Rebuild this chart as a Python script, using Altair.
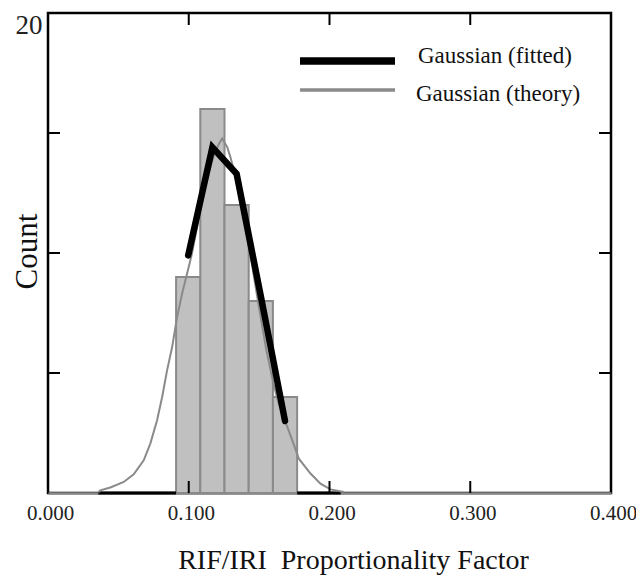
import altair as alt
import pandas as pd

# ---------------- data ----------------
bin_starts = [0.0910, 0.1082, 0.1254, 0.1426, 0.1598]
bin_ends = [0.1082, 0.1254, 0.1426, 0.1598, 0.1770]
counts = [9, 16, 12, 8, 4]

fit_x = [0.0996, 0.1168, 0.1340, 0.1512, 0.1684]
fit_y = [9.9, 14.4, 13.3, 8.2, 3.0]

theory_x = [0.0358, 0.0372, 0.0443, 0.0538, 0.0609, 0.0680, 0.0727, 0.0775, 0.0811,
            0.0846, 0.0882, 0.0917, 0.0953, 0.0988, 0.1020, 0.1060, 0.1100, 0.1140,
            0.1180, 0.1210, 0.1237, 0.1273, 0.1296, 0.1308, 0.1350, 0.1400, 0.1450,
            0.1500, 0.1550, 0.1600, 0.1640, 0.1687, 0.1735, 0.1782, 0.1865, 0.1936,
            0.2007, 0.2102]
theory_y = [0.03, 0.11, 0.23, 0.46, 0.78, 1.36, 2.06, 3.03, 4.0,
            5.11, 6.08, 7.33, 8.31, 9.14, 9.9, 11.1, 12.3, 13.3,
            14.1, 14.5, 14.77, 14.42, 14.0, 13.73, 12.8, 11.2, 9.5,
            7.7, 6.0, 4.6, 3.7, 2.96, 2.2, 1.43, 0.81, 0.39,
            0.15, 0.04]

zero_starts = [0.0358, 0.1770]
zero_ends = [0.0910, 0.2080]

x_ticks = [0.1, 0.2, 0.3]
y_ticks = [5, 10, 15]
x_labels = [0.0, 0.1, 0.2, 0.3, 0.4]

legend_names = ["Gaussian (fitted)", "Gaussian (theory)"]
x_title = "RIF/IRI\u00a0\u00a0Proportionality Factor"

# ---------------- layout ----------------
W, H = 563, 480
FONT = "Liberation Serif"

bars_df = pd.DataFrame({"x0": bin_starts, "x1": bin_ends, "count": counts})
fit_df = pd.DataFrame({"x": fit_x, "y": fit_y})
theory_df = pd.DataFrame({"x": theory_x, "y": theory_y})
zero_df = pd.DataFrame({"x0": zero_starts, "x1": zero_ends, "y": [0, 0]})
xt_df = pd.DataFrame({"x": x_ticks})
yt_df = pd.DataFrame({"y": y_ticks})

xscale = alt.Scale(domain=[0, 0.4], nice=False, zero=False)
yscale = alt.Scale(domain=[0, 20], nice=False, zero=False)

xaxis = alt.Axis(
    values=x_labels, format=".3f", grid=False, ticks=False,
    domain=True, domainColor="#8a8a8a", domainWidth=2.5,
    labelFont=FONT, labelFontSize=21, labelColor="#222222",
    labelPadding=9, labelFlush=False, labelOffset=2,
    title=x_title,
    titleFont=FONT, titleFontSize=28, titleFontWeight="normal", titleColor="#111111",
    titleBaseline="alphabetic", titleAlign="center", titleX=305, titleY=75,
)
yaxis = alt.Axis(
    values=[20], grid=False, ticks=False, domain=False,
    labelFont=FONT, labelFontSize=27, labelColor="#222222",
    labelPadding=6, labelBaseline="alphabetic", labelOffset=20,
    title="Count", titleFont=FONT, titleFontSize=31, titleFontWeight="normal",
    titleColor="#111111", titleAngle=270, titleBaseline="alphabetic",
    titleAlign="center", titleX=-12, titleY=238,
)

bars = alt.Chart(bars_df).mark_rect(
    fill="#c0c0c0", stroke="#8a8a8a", strokeWidth=2
).encode(
    x=alt.X("x0:Q", scale=xscale, axis=xaxis),
    x2="x1:Q",
    y=alt.Y("count:Q", scale=yscale, axis=yaxis),
    y2=alt.datum(0),
)

zero_rules = alt.Chart(zero_df).mark_rule(color="black", strokeWidth=3).encode(
    x="x0:Q", x2="x1:Q", y="y:Q"
)

theory = alt.Chart(theory_df).mark_line(color="#8a8a8a", strokeWidth=2).encode(
    x="x:Q", y="y:Q"
)

fit = alt.Chart(fit_df).mark_line(
    color="black", strokeWidth=6.5, strokeCap="round", strokeJoin="miter"
).encode(x="x:Q", y="y:Q")

tick_style = dict(color="black", strokeWidth=2)
xt_bottom = alt.Chart(xt_df).mark_rule(**tick_style).encode(
    x="x:Q", y=alt.value(H), y2=alt.value(H - 12))
xt_top = alt.Chart(xt_df).mark_rule(**tick_style).encode(
    x="x:Q", y=alt.value(0), y2=alt.value(12))
yt_left = alt.Chart(yt_df).mark_rule(**tick_style).encode(
    y="y:Q", x=alt.value(0), x2=alt.value(12))
yt_right = alt.Chart(yt_df).mark_rule(**tick_style).encode(
    y="y:Q", x=alt.value(W), x2=alt.value(W - 12))

# legend (drawn manually)
leg1_df = pd.DataFrame({"name": [legend_names[0]]})
leg2_df = pd.DataFrame({"name": [legend_names[1]]})
leg1_line = alt.Chart(leg1_df).mark_rule(color="black", strokeWidth=7.5).encode(
    x=alt.value(252), x2=alt.value(347), y=alt.value(48))
leg2_line = alt.Chart(leg2_df).mark_rule(color="#8a8a8a", strokeWidth=3.5).encode(
    x=alt.value(252), x2=alt.value(347), y=alt.value(77))
leg1_text = alt.Chart(leg1_df).mark_text(
    align="left", baseline="alphabetic", font=FONT, fontSize=23, color="#111111"
).encode(x=alt.value(370), y=alt.value(50), text="name:N")
leg2_text = alt.Chart(leg2_df).mark_text(
    align="left", baseline="alphabetic", font=FONT, fontSize=23, color="#111111"
).encode(x=alt.value(368), y=alt.value(88), text="name:N")

chart = alt.layer(
    bars, zero_rules, theory, fit,
    xt_bottom, xt_top, yt_left, yt_right,
    leg1_line, leg2_line, leg1_text, leg2_text,
).properties(
    width=W, height=H,
    background="white",
    autosize=alt.AutoSizeParams(type="none"),
    padding={"left": 40, "top": 5, "right": 25, "bottom": 83},
).configure_view(
    stroke="black", strokeWidth=2.5
)

chart.save("out.html", embed_options={"renderer": "svg", "actions": False})
